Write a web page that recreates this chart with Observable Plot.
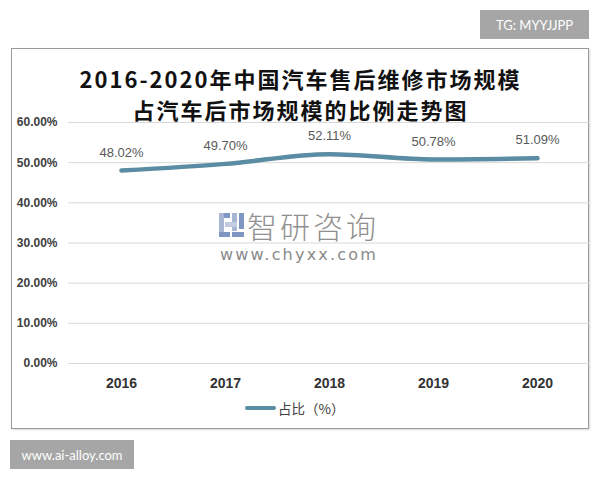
<!DOCTYPE html>
<html>
<head>
<meta charset="utf-8">
<script src="https://cdn.jsdelivr.net/npm/d3@7"></script>
<script src="https://cdn.jsdelivr.net/npm/@observablehq/plot@0.6"></script>
<style>
  body { margin: 0; background: #fff; }
  #root { position: relative; width: 600px; height: 480px; overflow: hidden; background: #fff; font-family: "Liberation Sans", Arial, sans-serif; }
  .abs { position: absolute; }
  .title { left: 12px; width: 577px; text-align: center; font-family: "Noto Sans CJK SC", sans-serif; font-weight: 700; font-size: 22px; letter-spacing: 2px; line-height: 28px; color: #111; white-space: nowrap; }
  .badge { background: #a6a6a6; color: #fff; font-size: 13px; font-family: "Lato", "Liberation Sans", sans-serif; display: flex; align-items: center; justify-content: center; }
</style>
</head>
<body>
<div id="root">
  <div class="abs" style="left:11px;top:48px;width:576px;height:379px;border:1.5px solid #9a9a9a;box-shadow:1px 1px 2px rgba(0,0,0,0.15);"></div>
  <div class="abs title" id="t1" style="top:64px;"></div>
  <div class="abs title" id="t2" style="top:95px;"></div>
  <div id="chart" class="abs" style="left:0;top:0;"></div>
  <!-- watermark -->
  <div class="abs" style="left:219px;top:213px;width:25px;height:24px;">
    <div class="abs" style="left:0;top:0;width:11px;height:5px;background:#7f95c2;"></div>
    <div class="abs" style="left:0;top:0;width:5px;height:24px;background:#a9b6d3;"></div>
    <div class="abs" style="left:0;top:19px;width:11px;height:5px;background:#7f95c2;"></div>
    <div class="abs" style="left:13px;top:0;width:5px;height:18px;background:#a9b6d3;"></div>
    <div class="abs" style="left:13px;top:19px;width:12px;height:5px;background:#7f95c2;"></div>
    <div class="abs" style="left:20px;top:0;width:5px;height:16px;background:#7f95c2;"></div>
    <div class="abs" style="left:6px;top:9px;width:12px;height:5px;background:#c3cbe0;"></div>
  </div>
  <div class="abs" id="wm1" style="left:247px;top:207px;font-family:'Noto Sans CJK SC',sans-serif;font-weight:300;font-size:30px;letter-spacing:3px;color:#909090;line-height:36px;white-space:nowrap;"></div>
  <div class="abs" id="wm2" style="left:200px;width:198px;text-align:center;top:245px;font-family:'DejaVu Sans',sans-serif;font-size:16px;letter-spacing:2.2px;color:#8a8a8a;line-height:20px;"></div>
  <!-- legend -->
  <div class="abs" style="left:245px;top:399px;height:18px;display:flex;align-items:center;">
    <div style="width:31px;height:4.5px;border-radius:2px;background:#5a8ca3;"></div>
    <div id="leg" style="margin-left:2px;font-family:'Noto Sans CJK SC',sans-serif;font-size:13.5px;color:#404040;"></div>
  </div>
  <div class="abs badge" id="b1" style="left:480px;top:10px;width:109px;height:29px;"></div>
  <div class="abs badge" id="b2" style="left:10px;top:440px;width:124px;height:29px;"></div>
</div>
<script>
// ---- data ----
const years = ["2016", "2017", "2018", "2019", "2020"];
const shares = [48.02, 49.70, 52.11, 50.78, 51.09];
const yTicks = [0, 10, 20, 30, 40, 50, 60];
const seriesName = "占比（%）";
const titleLines = ["2016-2020年中国汽车售后维修市场规模", "占汽车后市场规模的比例走势图"];
const watermarkName = "智研咨询";
const watermarkUrl = "www.chyxx.com";
const badgeTop = "TG: MYYJJPP";
const badgeBottom = "www.ai-alloy.com";

const data = years.map((year, i) => ({year, value: shares[i]}));
const pct = v => v.toFixed(2) + "%";

document.getElementById("t1").textContent = titleLines[0];
document.getElementById("t2").textContent = titleLines[1];
document.getElementById("wm1").textContent = watermarkName;
document.getElementById("wm2").textContent = watermarkUrl;
document.getElementById("leg").textContent = seriesName;
document.getElementById("b1").textContent = badgeTop;
document.getElementById("b2").textContent = badgeBottom;

const chart = Plot.plot({
  width: 600,
  height: 480,
  marginLeft: 68,
  marginRight: 11,
  marginTop: 122,
  marginBottom: 117,
  style: {background: "transparent", fontFamily: "'Liberation Sans', Arial, sans-serif", overflow: "visible"},
  x: {type: "point", domain: years, padding: 0.5, label: null},
  y: {domain: [0, 60], label: null},
  marks: [
    Plot.gridY(yTicks, {stroke: "#d9d9d9", strokeOpacity: 1, strokeWidth: 1}),
    Plot.axisY(yTicks, {tickSize: 0, tickPadding: 11, tickFormat: pct, fontSize: 12, fontWeight: "bold", color: "#404040", label: null}),
    Plot.axisX({tickSize: 0, tickPadding: 15, fontSize: 14, fontWeight: "bold", color: "#333", label: null}),
    Plot.line(data, {x: "year", y: "value", curve: "monotone-x", stroke: "#5a8ca3", strokeWidth: 4.5, strokeLinecap: "round",
      style: "filter: drop-shadow(1px 2px 1.5px rgba(0,0,0,0.35))"}),
    Plot.text(data, {x: "year", y: "value", text: d => pct(d.value), dy: -18, fontSize: 13, fill: "#595959"})
  ]
});
document.getElementById("chart").appendChild(chart);
</script>
</body>
</html>
